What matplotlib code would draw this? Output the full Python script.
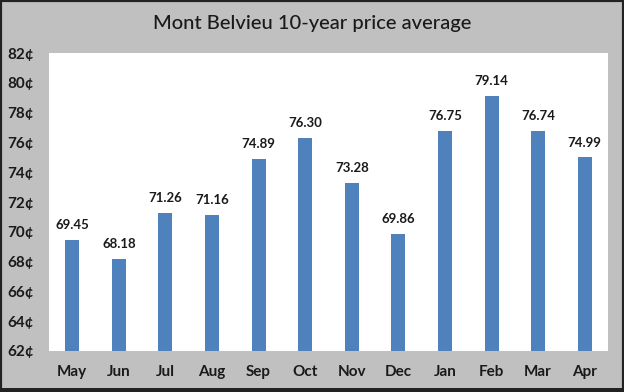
import matplotlib
matplotlib.use("Agg")
import matplotlib.pyplot as plt
from matplotlib.patches import Rectangle

months = ["May", "Jun", "Jul", "Aug", "Sep", "Oct", "Nov", "Dec", "Jan", "Feb", "Mar", "Apr"]
prices = [69.45, 68.18, 71.26, 71.16, 74.89, 76.30, 73.28, 69.86, 76.75, 79.14, 76.74, 74.99]
yticks = list(range(62, 84, 2))
title = "Mont Belvieu 10-year price average"

plt.rcParams['font.family'] = ['Lato', 'DejaVu Sans']

fig = plt.figure(figsize=(6.24, 3.92), dpi=100)
fig.patch.set_facecolor('#c0c0c0')
ax = fig.add_axes([49/624, 1 - 351/392, (608-49)/624, (351-53)/392])
ax.set_facecolor('white')

x = list(range(len(months)))
ax.bar(x, prices, width=0.3, color='#4f81bd', zorder=2)
for xi, v in zip(x, prices):
    ax.text(xi, v + 0.6, f"{v:.2f}", ha='center', va='bottom', fontsize=9.5,
            fontweight='bold', color='#1a1a1a')

ax.set_ylim(62, 82)
ax.set_xlim(-0.5, len(months) - 0.5)
ax.set_yticks(yticks)
ax.set_yticklabels([f"{t}¢" for t in yticks], fontsize=11, fontweight='bold', color='#1a1a1a')
ax.set_xticks(x)
ax.set_xticklabels(months, fontsize=11, fontweight='bold', color='#1a1a1a')
ax.tick_params(axis='both', length=0)
ax.tick_params(axis='y', pad=11)
ax.tick_params(axis='x', pad=10)
for s in ax.spines.values():
    s.set_visible(False)

fig.text(0.5, 1 - 23/392, title, ha='center', va='center', fontsize=14.5,
         fontweight='medium', color='#1a1a1a')

# figure border
fig.patches.append(Rectangle((0, 0), 1, 1, transform=fig.transFigure, fill=False,
                             edgecolor='#222222', linewidth=3, zorder=10))
fig.patches.append(Rectangle((0, 0), 1, 4/392, transform=fig.transFigure, fill=True,
                             facecolor='#222222', edgecolor='none', zorder=10))

fig.savefig("out.png", dpi=100, facecolor=fig.get_facecolor())
